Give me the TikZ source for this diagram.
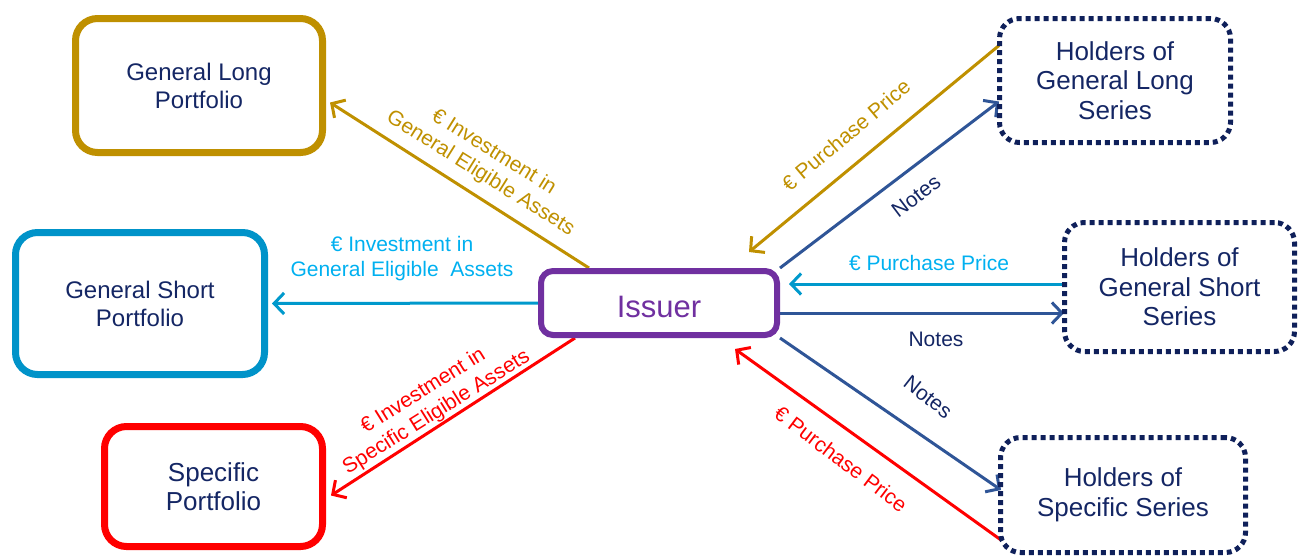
\documentclass[tikz,border=0pt]{standalone}
\usepackage{fontspec}
\setmainfont{Liberation Sans}
\usetikzlibrary{arrows.meta,calc}
\definecolor{gold}{RGB}{191,144,0}
\definecolor{boxblue}{RGB}{0,147,201}
\definecolor{cyanarr}{RGB}{0,153,204}
\definecolor{cyantxt}{RGB}{0,176,240}
\definecolor{navyarr}{RGB}{47,85,151}
\definecolor{navytxt}{RGB}{20,38,100}
\definecolor{purp}{RGB}{112,48,160}
\definecolor{dotnavy}{RGB}{15,32,90}
\pgfdeclarelayer{bg}
\pgfsetlayers{bg,main}
\begin{document}
\begin{tikzpicture}[x=1pt,y=-1pt,
 box/.style={draw, rectangle, rounded corners=22pt, line width=7pt, align=center, text=navytxt, font=\fontsize{24}{28}\selectfont, inner sep=0pt},
 holder/.style={draw=dotnavy, rectangle, rounded corners=20pt, line width=5pt, dash pattern=on 5pt off 4pt, align=center, text=navytxt, font=\fontsize{26}{29.5}\selectfont, inner sep=0pt},
 arr/.style={line width=3pt, -{Straight Barb[length=10pt,width=21pt]}},
 lbl/.style={align=center, font=\fontsize{21}{25}\selectfont, inner sep=0pt},
]
\useasboundingbox (0,0) rectangle (1306,558);

\node[box, draw=gold, minimum width=247pt, minimum height=134pt] (gl) at (199,85.5) {General Long\\Portfolio};
\node[box, draw=boxblue, minimum width=249pt, minimum height=142pt] (gs) at (140,303.5) {General Short\\Portfolio};
\node[box, draw=red, minimum width=218pt, minimum height=120pt, font=\fontsize{26}{29}\selectfont] (sp) at (213.5,486.5) {Specific\\Portfolio};
\node[draw=purp, line width=6pt, rounded corners=12pt, minimum width=236pt, minimum height=64pt, text=purp, font=\fontsize{31}{35}\selectfont, inner sep=0pt, text height=28pt, text depth=0pt] (iss) at (659,303) {Issuer};
\node[holder, minimum width=231pt, minimum height=124pt] (hgl) at (1115,80.5) {Holders of\\General Long\\Series};
\node[holder, minimum width=230pt, minimum height=129pt] (hgs) at (1179.5,287) {Holders of\\General Short\\Series};
\node[holder, minimum width=245pt, minimum height=115pt] (hs) at (1123,495) {Holders of\\Specific Series};

\begin{pgfonlayer}{bg}
\draw[arr, gold] ($(iss.north west)+(51,0)$) -- ($(gl.east)+(4,17)$);
\draw[arr, cyanarr] (iss.west) -- ($(gs.east)+(4,0)$);
\draw[arr, red] ($(iss.south west)+(37,0)$) -- ($(sp.east)+(5,9)$);
\draw[arr, gold] ($(hgl.west)+(2,-35)$) -- ($(iss.north)+(90,-16)$);
\draw[arr, navyarr] (iss.north east) -- ($(hgl.west)+(2,21)$);
\draw[arr, cyanarr] ($(hgs.west)+(0,-3)$) -- ($(iss.east)+(9,-19)$);
\draw[arr, navyarr] ($(iss.east)+(0,10)$) -- ($(hgs.west)+(2,26)$);
\draw[arr, navyarr] (iss.south east) -- ($(hs.west)+(3,-5)$);
\draw[arr, red] ($(hs.west)+(3,45)$) -- ($(iss.south)+(76,11)$);
\end{pgfonlayer}

\node[lbl, text=gold, rotate=-32] (l1) at (487,163) {€ Investment in\\General Eligible Assets};
\node[lbl, text=cyantxt] (l2) at (402,259) {€ Investment in\\General Eligible\ \ Assets};
\node[lbl, text=red, rotate=32] (l3) at (430,402) {€ Investment in\\Specific Eligible Assets};
\node[lbl, text=gold, rotate=40] (l4) at (846,135) {€ Purchase Price};
\node[lbl, text=navytxt, rotate=37] (l5) at (916,196) {Notes};
\node[lbl, text=cyantxt] (l6) at (929,263) {€ Purchase Price};
\node[lbl, text=navytxt] (l7) at (936,339) {Notes};
\node[lbl, text=navytxt, rotate=-38] (l8) at (928,397) {Notes};
\node[lbl, text=red, rotate=-37] (l9) at (841,459) {€ Purchase Price};
\end{tikzpicture}
\end{document}
